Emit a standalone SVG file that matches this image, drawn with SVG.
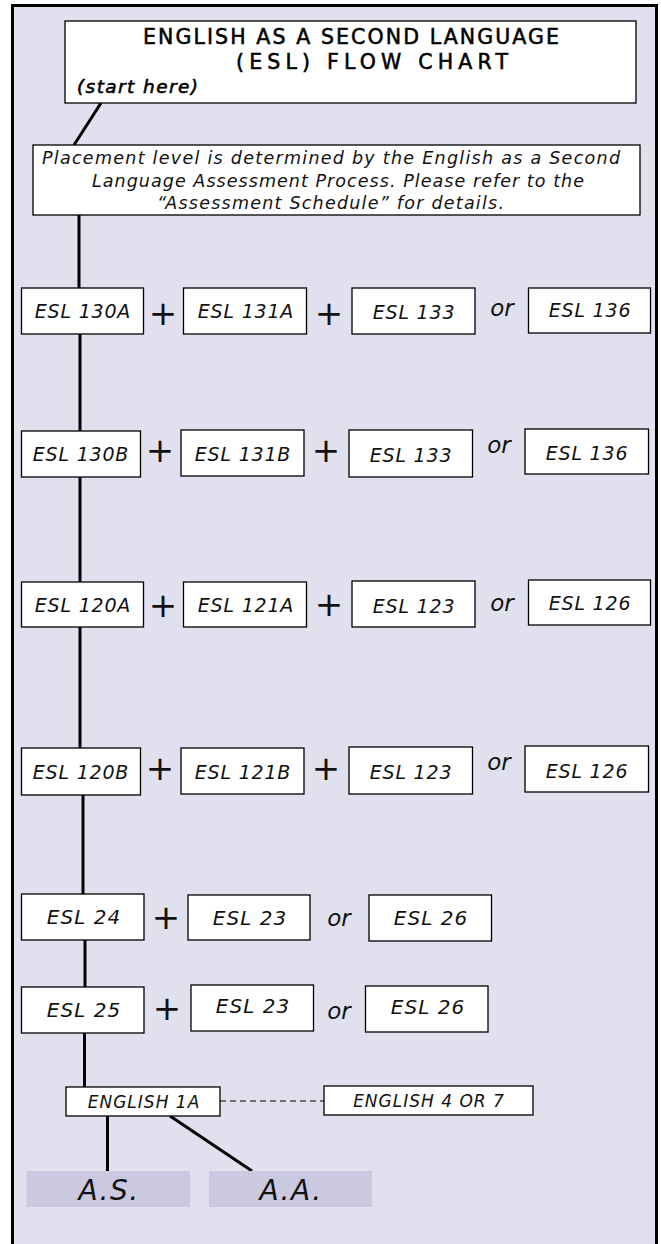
<svg xmlns="http://www.w3.org/2000/svg" width="661" height="1244" viewBox="0 0 661 1244">
<style>
.bx{fill:#ffffff;stroke:#000;stroke-width:1.3}
.deg{fill:#cbc9e0;stroke:none}
.t{font-family:"DejaVu Sans","Liberation Sans",sans-serif;font-style:italic;font-size:20px;fill:#111;text-anchor:middle;letter-spacing:1px}
.sm{font-size:19px;letter-spacing:0.8px}
.en{font-size:17px;letter-spacing:1px}
.ttl{font-family:"DejaVu Sans","Liberation Sans",sans-serif;font-size:20.5px;fill:#000;stroke:#000;stroke-width:0.55;text-anchor:start}
.st{font-size:18.5px}
.pl{font-family:"DejaVu Sans","Liberation Sans",sans-serif;font-style:italic;font-size:17.5px;fill:#111;text-anchor:start}
.op{font-family:"DejaVu Sans","Liberation Sans",sans-serif;font-style:italic;font-size:23px;fill:#111;text-anchor:middle}
.plus{font-family:"DejaVu Sans",sans-serif;font-size:34px;fill:#111;text-anchor:middle}
.big{font-family:"DejaVu Sans","Liberation Sans",sans-serif;font-style:italic;font-size:28px;fill:#111;text-anchor:middle;letter-spacing:1.5px}
.ln{stroke:#000;stroke-width:3;fill:none}
.dash{stroke:#000;stroke-width:1.2;stroke-dasharray:6,4;fill:none}
</style>
<rect x="0" y="0" width="661" height="1244" fill="#ffffff"/>
<rect id="frame" x="12.5" y="5.5" width="644" height="1250" fill="#e1e0ee" stroke="#000" stroke-width="3"/>

<g id="connectors">
<line class="ln" x1="101" y1="103" x2="74" y2="145"/>
<line class="ln" x1="79" y1="215" x2="79" y2="288"/>
<line class="ln" x1="80" y1="334" x2="80" y2="431"/>
<line class="ln" x1="80" y1="477" x2="80" y2="582"/>
<line class="ln" x1="80" y1="627" x2="80" y2="748"/>
<line class="ln" x1="83" y1="795" x2="83" y2="894"/>
<line class="ln" x1="85" y1="940" x2="85" y2="987"/>
<line class="ln" x1="84.5" y1="1033" x2="84.5" y2="1087"/>
<line class="ln" x1="107.5" y1="1116" x2="107.5" y2="1171"/>
<line class="ln" x1="170" y1="1116" x2="252" y2="1171"/>
<line class="dash" x1="220" y1="1101" x2="324" y2="1101"/>
</g>

<g id="title">
<rect class="bx" x="65" y="21" width="571" height="82"/>
<text class="ttl" x="143" y="44" textLength="416" lengthAdjust="spacing">ENGLISH AS A SECOND LANGUAGE</text>
<text class="ttl" x="236" y="69" textLength="272" lengthAdjust="spacing">(ESL) FLOW CHART</text>
<text class="ttl st" x="77" y="93" style="font-style:italic" textLength="121" lengthAdjust="spacing">(start here)</text>
</g>

<g id="placement">
<rect class="bx" x="33" y="145" width="607" height="70"/>
<text class="pl" x="42" y="164" textLength="578" lengthAdjust="spacing">Placement level is determined by the English as a Second</text>
<text class="pl" x="92" y="187" textLength="492" lengthAdjust="spacing">Language Assessment Process. Please refer to the</text>
<text class="pl" x="157" y="209" textLength="347" lengthAdjust="spacing">“Assessment Schedule” for details.</text>
</g>

<g id="row1">
<g id="esl130a"><rect class="bx" x="21.5" y="288" width="122" height="46"/><text class="t sm" x="83" y="318">ESL 130A</text></g>
<text class="plus" x="163" y="325">+</text>
<g id="esl131a"><rect class="bx" x="183.5" y="288" width="123" height="46"/><text class="t sm" x="246" y="318">ESL 131A</text></g>
<text class="plus" x="329" y="325">+</text>
<g id="esl133a"><rect class="bx" x="352" y="288" width="123" height="46"/><text class="t sm" x="414" y="319">ESL 133</text></g>
<text class="op" x="502" y="316">or</text>
<g id="esl136a"><rect class="bx" x="528.5" y="288" width="122" height="45"/><text class="t sm" x="590" y="317">ESL 136</text></g>
</g>

<g id="row2">
<g id="esl130b"><rect class="bx" x="21.5" y="431" width="119" height="46"/><text class="t sm" x="81" y="461">ESL 130B</text></g>
<text class="plus" x="160" y="462">+</text>
<g id="esl131b"><rect class="bx" x="181" y="430" width="123" height="46"/><text class="t sm" x="243" y="461">ESL 131B</text></g>
<text class="plus" x="326" y="462">+</text>
<g id="esl133b"><rect class="bx" x="349" y="430" width="123.5" height="47"/><text class="t sm" x="411" y="462">ESL 133</text></g>
<text class="op" x="499" y="453">or</text>
<g id="esl136b"><rect class="bx" x="525" y="429" width="123.5" height="45"/><text class="t sm" x="587" y="460">ESL 136</text></g>
</g>

<g id="row3">
<g id="esl120a"><rect class="bx" x="21.5" y="582" width="122" height="45"/><text class="t sm" x="83" y="612">ESL 120A</text></g>
<text class="plus" x="163" y="617">+</text>
<g id="esl121a"><rect class="bx" x="183.5" y="582" width="123" height="45"/><text class="t sm" x="246" y="612">ESL 121A</text></g>
<text class="plus" x="329" y="616">+</text>
<g id="esl123a"><rect class="bx" x="352" y="581" width="123" height="46"/><text class="t sm" x="414" y="613">ESL 123</text></g>
<text class="op" x="502" y="611">or</text>
<g id="esl126a"><rect class="bx" x="528.5" y="580" width="122" height="45"/><text class="t sm" x="590" y="610">ESL 126</text></g>
</g>

<g id="row4">
<g id="esl120b"><rect class="bx" x="21.5" y="748" width="119" height="47"/><text class="t sm" x="81" y="779">ESL 120B</text></g>
<text class="plus" x="160" y="780">+</text>
<g id="esl121b"><rect class="bx" x="181" y="748" width="123" height="46"/><text class="t sm" x="243" y="779">ESL 121B</text></g>
<text class="plus" x="326" y="780">+</text>
<g id="esl123b"><rect class="bx" x="349" y="747" width="123.5" height="47"/><text class="t sm" x="411" y="779">ESL 123</text></g>
<text class="op" x="499" y="770">or</text>
<g id="esl126b"><rect class="bx" x="525" y="746" width="123.5" height="46"/><text class="t sm" x="587" y="778">ESL 126</text></g>
</g>

<g id="row5">
<g id="esl24"><rect class="bx" x="21.5" y="894" width="122.5" height="46"/><text class="t" x="84" y="924">ESL 24</text></g>
<text class="plus" x="166" y="929">+</text>
<g id="esl23a"><rect class="bx" x="188" y="895" width="122" height="45"/><text class="t" x="250" y="925">ESL 23</text></g>
<text class="op" x="339" y="926">or</text>
<g id="esl26a"><rect class="bx" x="369" y="895" width="122.5" height="46"/><text class="t" x="431" y="925">ESL 26</text></g>
</g>

<g id="row6">
<g id="esl25"><rect class="bx" x="21.5" y="987" width="122.5" height="46"/><text class="t" x="84" y="1017">ESL 25</text></g>
<text class="plus" x="167" y="1020">+</text>
<g id="esl23b"><rect class="bx" x="191" y="985" width="122.5" height="46"/><text class="t" x="253" y="1013">ESL 23</text></g>
<text class="op" x="339" y="1019">or</text>
<g id="esl26b"><rect class="bx" x="365.5" y="986" width="122.5" height="46"/><text class="t" x="428" y="1014">ESL 26</text></g>
</g>

<g id="english1a"><rect class="bx" x="66" y="1087" width="154" height="29"/><text class="t en" x="144" y="1108">ENGLISH 1A</text></g>
<g id="english47"><rect class="bx" x="324" y="1086" width="209" height="29"/><text class="t en" x="429" y="1107">ENGLISH 4 OR 7</text></g>

<g id="as"><rect class="deg" x="26.5" y="1171" width="163.5" height="36"/><text class="big" x="109" y="1200">A.S.</text></g>
<g id="aa"><rect class="deg" x="209" y="1171" width="163" height="36"/><text class="big" x="291" y="1200">A.A.</text></g>
</svg>
